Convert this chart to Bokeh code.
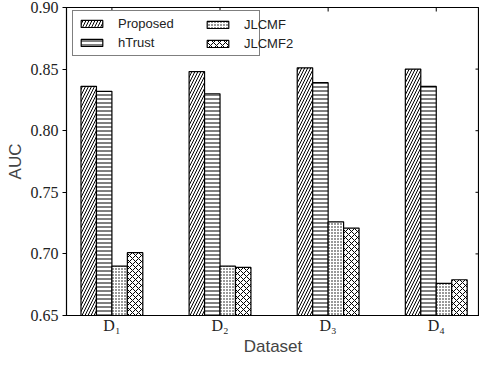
import math
from bokeh.plotting import figure
from bokeh.models import (Range1d, FixedTicker, Legend, LegendItem, ColumnDataSource)
from bokeh.embed import file_html
from bokeh.resources import INLINE

datasets = ["D\u2081", "D\u2082", "D\u2083", "D\u2084"]
series = ["Proposed", "hTrust", "JLCMF", "JLCMF2"]
proposed = [0.836, 0.848, 0.851, 0.850]
htrust = [0.832, 0.830, 0.839, 0.836]
jlcmf = [0.690, 0.690, 0.726, 0.676]
jlcmf2 = [0.701, 0.689, 0.721, 0.679]
y_ticks = [0.65, 0.70, 0.75, 0.80, 0.85, 0.90]
y_tick_labels = ["0.65", "0.70", "0.75", "0.80", "0.85", "0.90"]

values = [proposed, htrust, jlcmf, jlcmf2]
hatches = ["/", "-", ".", "x"]
hatch_scales = [6, 4, 3, 6]
group_x = [1, 2, 3, 4]
bw = 0.143
offsets = [-1.5 * bw, -0.5 * bw, 0.5 * bw, 1.5 * bw]
X0, X1, Y0, Y1 = 0.58, 4.40, 0.65, 0.90

p = figure(width=479, height=358, output_backend="svg", toolbar_location=None,
           x_range=Range1d(X0, X1), y_range=Range1d(Y0, Y1), min_border=0,
           min_border_top=7, min_border_right=0, min_border_left=66, min_border_bottom=40)
p.outline_line_color = "black"
p.outline_line_width = 1.2
p.xgrid.visible = False
p.ygrid.visible = False
p.background_fill_color = "white"
p.border_fill_color = "white"

renderers = []
for name, vals, h, hs, off in zip(series, values, hatches, hatch_scales, offsets):
    src = ColumnDataSource(dict(x=[g + off for g in group_x], top=vals))
    r = p.vbar(x="x", top="top", bottom=Y0, width=bw, source=src,
               fill_color="white", line_color="black", line_width=1.2,
               hatch_pattern=h, hatch_color="black", hatch_scale=hs, hatch_weight=1)
    renderers.append((name, r))

# inward tick marks on the right and top frame edges
p.ray(x=[X1] * len(y_ticks), y=y_ticks, length=4, length_units="screen",
      angle=math.pi, line_color="black", line_width=1)
p.ray(x=group_x, y=[Y1] * len(group_x), length=4, length_units="screen",
      angle=-math.pi / 2, line_color="black", line_width=1)

serif = "Liberation Serif"
sans = "Liberation Sans"

ya = p.yaxis[0]
ya.ticker = FixedTicker(ticks=y_ticks)
ya.major_label_overrides = {t: l for t, l in zip(y_ticks, y_tick_labels)}
ya.major_label_text_font = serif
ya.major_label_text_font_size = "16px"
ya.major_label_text_color = "#222222"
ya.major_tick_in = 0
ya.major_tick_out = 4
ya.minor_tick_in = 0
ya.minor_tick_out = 0
ya.major_label_standoff = 4
ya.axis_label = "AUC"
ya.axis_label_text_font = sans
ya.axis_label_text_font_style = "normal"
ya.axis_label_text_font_size = "17px"
ya.axis_label_standoff = 3
ya.axis_line_color = "black"

xa = p.xaxis[0]
xa.ticker = FixedTicker(ticks=group_x)
xa.major_label_overrides = {g: d for g, d in zip(group_x, datasets)}
xa.major_label_text_font = serif
xa.major_label_text_font_size = "16px"
xa.major_label_text_color = "#222222"
xa.major_tick_in = 0
xa.major_tick_out = 0
xa.minor_tick_in = 0
xa.minor_tick_out = 0
xa.major_label_standoff = 1
xa.axis_label = "Dataset"
xa.axis_label_text_font = sans
xa.axis_label_text_font_style = "normal"
xa.axis_label_text_font_size = "17px"
xa.axis_label_standoff = 0
xa.axis_line_color = "black"

def make_legend(items, loc, label_width, framed):
    lg = Legend(items=items, location=loc)
    lg.label_text_font = sans
    lg.label_text_font_size = "13px"
    lg.label_text_color = "#222222"
    lg.glyph_width = 27
    lg.glyph_height = 9
    lg.label_standoff = 13
    lg.label_width = label_width
    lg.spacing = 4
    lg.padding = 5
    lg.margin = 0
    if framed:
        lg.border_line_color = "black"
        lg.border_line_width = 1
        lg.background_fill_color = "white"
        lg.background_fill_alpha = 1
    else:
        lg.border_line_alpha = 0
        lg.background_fill_alpha = 0
    return lg

items = [LegendItem(label=n, renderers=[r]) for n, r in renderers]
FH = 358 - 7 - 40
leg_bottom = FH - 52
p.add_layout(make_legend(items[:2], (6, leg_bottom), 136, True), "center")
p.add_layout(make_legend(items[2:], (133, leg_bottom), 20, False), "center")

open("out.html", "w").write(file_html(p, INLINE))
